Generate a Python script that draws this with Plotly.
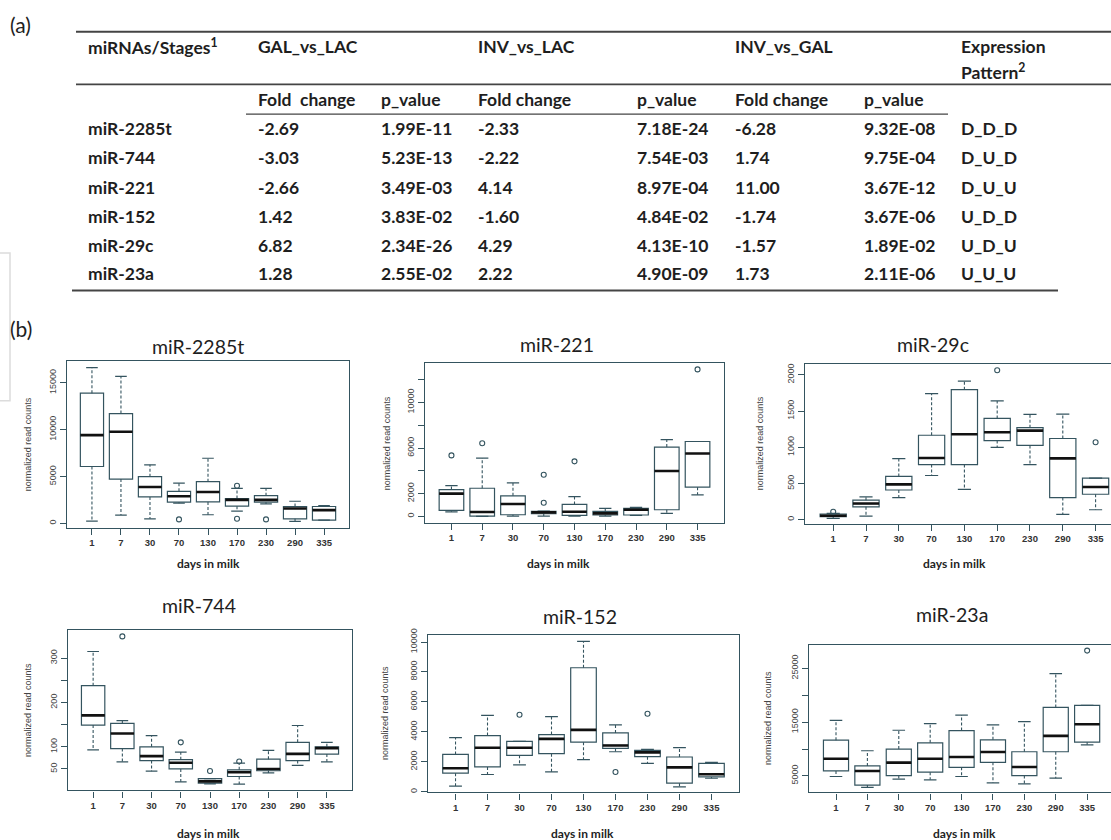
import plotly.graph_objects as go

W, H = 1111, 840


def X(px):
    return px / W


def Y(py):
    return 1 - py / H


# ---------------- (a) table data ----------------
mirnas = ["miR-2285t", "miR-744", "miR-221", "miR-152", "miR-29c", "miR-23a"]
gal_lac_fc = ["-2.69", "-3.03", "-2.66", "1.42", "6.82", "1.28"]
gal_lac_p = ["1.99E-11", "5.23E-13", "3.49E-03", "3.83E-02", "2.34E-26", "2.55E-02"]
inv_lac_fc = ["-2.33", "-2.22", "4.14", "-1.60", "4.29", "2.22"]
inv_lac_p = ["7.18E-24", "7.54E-03", "8.97E-04", "4.84E-02", "4.13E-10", "4.90E-09"]
inv_gal_fc = ["-6.28", "1.74", "11.00", "-1.74", "-1.57", "1.73"]
inv_gal_p = ["9.32E-08", "9.75E-04", "3.67E-12", "3.67E-06", "1.89E-02", "2.11E-06"]
patterns = ["D_D_D", "D_U_D", "D_U_U", "U_D_D", "U_D_U", "U_U_U"]

# ---------------- (b) box plot data ----------------
days = ["1", "7", "30", "70", "130", "170", "230", "290", "335"]

# miR-2285t
lo_2285t = [250, 880, 490, 2150, 920, 1310, 2080, 210, 350]
q1_2285t = [6070, 4730, 2820, 2260, 2290, 1840, 2260, 490, 350]
med_2285t = [9420, 9780, 3880, 2890, 3350, 2510, 2510, 1590, 1410]
q3_2285t = [13900, 11720, 4980, 3420, 4450, 2650, 2960, 1800, 1800]
hi_2285t = [16620, 15700, 6250, 4300, 6950, 3740, 3740, 2360, 1900]
out_day_2285t = ["70", "170", "170", "230"]
out_val_2285t = [420, 4020, 490, 420]

# miR-221
lo_221 = [400, 0, 30, 30, 30, 30, 90, 260, 1890]
q1_221 = [520, 30, 145, 230, 90, 120, 120, 580, 2560]
med_221 = [2000, 380, 1080, 350, 410, 260, 580, 3980, 5520]
q3_221 = [2350, 2470, 1800, 440, 1050, 440, 700, 6080, 6570]
hi_221 = [2700, 5120, 2940, 470, 1740, 700, 790, 6740, 6570]
out_day_221 = ["1", "7", "70", "70", "130", "335"]
out_val_221 = [5350, 6420, 3660, 1190, 4830, 12900]

# miR-29c
lo_29c = [18, 50, 305, 610, 419, 998, 761, 73, 137]
q1_29c = [41, 178, 410, 761, 761, 1093, 1025, 305, 351]
med_29c = [55, 223, 487, 852, 1180, 1207, 1230, 847, 451]
q3_29c = [77, 269, 597, 1166, 1795, 1399, 1271, 1121, 574]
hi_29c = [87, 314, 843, 1740, 1913, 1640, 1453, 1458, 574]
out_day_29c = ["1", "170", "335"]
out_val_29c = [109, 2064, 1070]

# miR-744
lo_744 = [93, 66, 45, 21, 16.5, 16, 41, 58, 66]
q1_744 = [149, 96, 69, 50, 18, 33, 46, 69, 83.5]
med_744 = [171, 130, 79, 64, 22, 42.5, 50, 84, 97]
q3_744 = [238, 153, 100, 71, 28, 48, 72, 110, 100]
hi_744 = [315, 159, 125, 88, 28, 63, 92, 148, 110]
out_day_744 = ["7", "70", "130", "170"]
out_val_744 = [349, 110, 45.5, 67]

# miR-152
lo_152 = [375, 1150, 1790, 1320, 2140, 2670, 1900, 330, 900]
q1_152 = [1240, 1660, 2430, 2540, 3310, 2890, 2340, 570, 990]
med_152 = [1570, 2940, 2940, 3530, 4130, 3090, 2630, 1630, 1170]
q3_152 = [2490, 3750, 3360, 3820, 8280, 3930, 2760, 2320, 1900]
hi_152 = [3620, 5100, 3360, 5010, 10040, 4460, 2830, 2940, 1960]
out_day_152 = ["30", "170", "230"]
out_val_152 = [5140, 1320, 5210]

# miR-23a
lo_23a = [4880, 2850, 4380, 4260, 4880, 3710, 3520, 4570, 10780]
q1_23a = [5920, 3280, 5060, 5680, 6600, 7520, 5060, 9490, 11280]
med_23a = [8200, 5920, 7460, 8200, 8510, 9430, 6660, 12450, 14600]
q3_23a = [11650, 6850, 9980, 11150, 13430, 11710, 9490, 17740, 18110]
hi_23a = [15340, 9680, 13490, 14720, 16320, 14480, 15090, 24020, 18110]
out_day_23a = ["335"]
out_val_23a = [28320]

# y-axis ticks: labelled major ticks and unlabelled extra ticks
yt_2285t = [0, 5000, 10000, 15000]
ym_2285t = []
yt_221 = [0, 2000, 6000, 10000]
ym_221 = [4000, 8000, 12000]
yt_29c = [0, 500, 1000, 1500, 2000]
ym_29c = []
yt_744 = [50, 100, 200, 300]
ym_744 = [150, 250]
yt_152 = [0, 2000, 4000, 6000, 8000, 10000]
ym_152 = []
yt_23a = [5000, 15000, 25000]
ym_23a = [10000, 20000]

# ---------------- styling / layout ----------------
BOX_C = "#34545f"
MED_C = "#111111"
TXT_C = "#1e1e1e"
TABLE_FONT = "Lato, Carlito, 'Open Sans', sans-serif"
R_FONT = "'Liberation Sans', Arial, sans-serif"

panels = [
    dict(name="miR-2285t", lo=lo_2285t, q1=q1_2285t, med=med_2285t, q3=q3_2285t, hi=hi_2285t,
         od=out_day_2285t, ov=out_val_2285t, yt=yt_2285t, ym=ym_2285t,
         fx=(67, 349), fy=(357, 525), xr=(0.14, 9.86), yr=(-455, 17330), mirror_y=True,
         title=(198, 342), xlab=(208, 561), ylab=(28, 441)),
    dict(name="miR-221", lo=lo_221, q1=q1_221, med=med_221, q3=q3_221, hi=hi_221,
         od=out_day_221, ov=out_val_221, yt=yt_221, ym=ym_221,
         fx=(425, 724), fy=(359, 520), xr=(0.14, 9.86), yr=(-552, 13460), mirror_y=True,
         title=(557, 340), xlab=(558, 561), ylab=(387, 440)),
    dict(name="miR-29c", lo=lo_29c, q1=q1_29c, med=med_29c, q3=q3_29c, hi=hi_29c,
         od=out_day_29c, ov=out_val_29c, yt=yt_29c, ym=ym_29c,
         fx=(805, 1111), fy=(360, 521), xr=(0.14, 9.47), yr=(-55, 2150), mirror_y=False,
         title=(933, 340), xlab=(954, 561), ylab=(760, 440)),
    dict(name="miR-744", lo=lo_744, q1=q1_744, med=med_744, q3=q3_744, hi=hi_744,
         od=out_day_744, ov=out_val_744, yt=yt_744, ym=ym_744,
         fx=(68, 352), fy=(628, 790), xr=(0.14, 9.86), yr=(1.6, 364), mirror_y=True,
         title=(199, 604), xlab=(208, 833), ylab=(28, 709)),
    dict(name="miR-152", lo=lo_152, q1=q1_152, med=med_152, q3=q3_152, hi=hi_152,
         od=out_day_152, ov=out_val_152, yt=yt_152, ym=ym_152,
         fx=(428, 739), fy=(633, 792), xr=(0.14, 9.86), yr=(-44, 10486), mirror_y=True,
         title=(580, 615), xlab=(582, 833), ylab=(385, 712)),
    dict(name="miR-23a", lo=lo_23a, q1=q1_23a, med=med_23a, q3=q3_23a, hi=hi_23a,
         od=out_day_23a, ov=out_val_23a, yt=yt_23a, ym=ym_23a,
         fx=(809, 1111), fy=(643, 792), xr=(0.14, 9.76), yr=(1923, 29430), mirror_y=False,
         title=(952, 613), xlab=(964, 833), ylab=(768, 717)),
]

fig = go.Figure()
annotations = []
shapes = []
layout_axes = {}

pos = list(range(1, len(days) + 1))
day_pos = {d: p for d, p in zip(days, pos)}

for k, pn in enumerate(panels, start=1):
    xa, ya = f"x{k}", f"y{k}"
    # whiskers (dashed)
    wx, wy = [], []
    for i, p in enumerate(pos):
        wx += [p, p, None, p, p, None]
        wy += [pn["q3"][i], pn["hi"][i], None, pn["q1"][i], pn["lo"][i], None]
    fig.add_trace(go.Scatter(x=wx, y=wy, mode="lines", xaxis=xa, yaxis=ya,
                             line=dict(color=BOX_C, width=1.1, dash="3px,2px"),
                             hoverinfo="skip", showlegend=False))
    # boxes
    fig.add_trace(go.Box(x=pos, q1=pn["q1"], median=pn["med"], q3=pn["q3"],
                         lowerfence=pn["q1"], upperfence=pn["q3"], width=0.8,
                         whiskerwidth=0, boxpoints=False, xaxis=xa, yaxis=ya,
                         fillcolor="rgba(255,255,255,0)", line=dict(color=BOX_C, width=1.2),
                         hoverinfo="skip", showlegend=False))
    # caps
    cx, cy = [], []
    for i, p in enumerate(pos):
        cx += [p - 0.2, p + 0.2, None, p - 0.2, p + 0.2, None]
        cy += [pn["hi"][i], pn["hi"][i], None, pn["lo"][i], pn["lo"][i], None]
    fig.add_trace(go.Scatter(x=cx, y=cy, mode="lines", xaxis=xa, yaxis=ya,
                             line=dict(color=BOX_C, width=1.2),
                             hoverinfo="skip", showlegend=False))
    # medians (thick)
    mx, my = [], []
    for i, p in enumerate(pos):
        mx += [p - 0.4, p + 0.4, None]
        my += [pn["med"][i], pn["med"][i], None]
    fig.add_trace(go.Scatter(x=mx, y=my, mode="lines", xaxis=xa, yaxis=ya,
                             line=dict(color=MED_C, width=2.6),
                             hoverinfo="skip", showlegend=False))
    # outliers
    fig.add_trace(go.Scatter(x=[day_pos[d] for d in pn["od"]], y=pn["ov"], mode="markers",
                             xaxis=xa, yaxis=ya,
                             marker=dict(symbol="circle-open", size=5, color=BOX_C,
                                         line=dict(width=1.1, color=BOX_C)),
                             hoverinfo="skip", showlegend=False))

    x0, x1 = pn["fx"]
    y0, y1 = pn["fy"]
    layout_axes[f"xaxis{k}"] = dict(
        domain=[X(x0), X(x1)], range=list(pn["xr"]), anchor=ya,
        tickmode="array", tickvals=pos, ticktext=days,
        showline=True, mirror=True, linecolor=BOX_C, linewidth=1.2,
        ticks="outside", ticklen=6, tickcolor=BOX_C, tickwidth=1.1,
        showgrid=False, zeroline=False, fixedrange=True,
        tickfont=dict(family=R_FONT, size=9.5, color="#333", weight="bold"),
    )
    yax = dict(
        domain=[Y(y1), Y(y0)], range=list(pn["yr"]), anchor=xa,
        tickmode="array", tickvals=pn["yt"], ticktext=[str(v) for v in pn["yt"]],
        tickangle=-90,
        showline=True, mirror=pn["mirror_y"], linecolor=BOX_C, linewidth=1.2,
        ticks="outside", ticklen=6, tickcolor=BOX_C, tickwidth=1.1,
        showgrid=False, zeroline=False, fixedrange=True,
        tickfont=dict(family=R_FONT, size=9, color="#444"),
    )
    if pn["ym"]:
        yax["minor"] = dict(tickmode="array", tickvals=pn["ym"], ticks="outside", ticklen=6,
                            tickcolor=BOX_C, tickwidth=1.1, showgrid=False)
    layout_axes[f"yaxis{k}"] = yax

    tx, ty = pn["title"]
    annotations.append(dict(text=pn["name"], x=X(tx), y=Y(ty), xref="paper", yref="paper",
                            xanchor="center", yanchor="middle", showarrow=False,
                            font=dict(family=TABLE_FONT, size=19.5, color=TXT_C)))
    lx, ly = pn["xlab"]
    annotations.append(dict(text="days in milk", x=X(lx), y=Y(ly), xref="paper", yref="paper",
                            xanchor="center", yanchor="middle", showarrow=False,
                            font=dict(family=TABLE_FONT, size=12, color=TXT_C, weight="bold")))
    yx, yy = pn["ylab"]
    annotations.append(dict(text="normalized read counts", x=X(yx), y=Y(yy), xref="paper",
                            yref="paper", xanchor="center", yanchor="middle", showarrow=False,
                            textangle=-90,
                            font=dict(family=R_FONT, size=9, color="#444")))

# ---------------- table annotations ----------------
def tab_text(txt, px, py, size=17.5, weight="bold"):
    annotations.append(dict(text=txt, x=X(px), y=Y(py), xref="paper", yref="paper",
                            xanchor="left", yanchor="middle", showarrow=False,
                            font=dict(family=TABLE_FONT, size=size, color=TXT_C,
                                      weight=weight)))


col_x = [86, 256, 379, 476, 635, 733, 862, 959]
row_y = [123, 152, 182, 211, 240, 269]

tab_text("miRNAs/Stages<sup>1</sup>", col_x[0], 40)
tab_text("GAL_vs_LAC", col_x[1], 40)
tab_text("INV_vs_LAC", col_x[3], 40)
tab_text("INV_vs_GAL", col_x[5], 40)
tab_text("Expression", col_x[7], 40)
tab_text("Pattern<sup>2</sup>", col_x[7], 65)
for c, lab in zip(col_x[1:7], ["Fold\u00a0 change", "p_value", "Fold change", "p_value",
                               "Fold change", "p_value"]):
    tab_text(lab, c, 93)

columns = [mirnas, gal_lac_fc, gal_lac_p, inv_lac_fc, inv_lac_p, inv_gal_fc, inv_gal_p, patterns]
for c, col in zip(col_x, columns):
    for r, val in zip(row_y, col):
        tab_text(val, c, r)

tab_text("(a)", 8, 18, size=21, weight="normal")
tab_text("(b)", 8, 324, size=21, weight="normal")

RULE_C = "#444444"
for (xa0, xa1, yy, lw) in [(76, 1112, 25, 2.0), (76, 1112, 78, 1.6), (246, 948, 108, 1.3),
                           (72, 1058, 286, 2.0)]:
    shapes.append(dict(type="line", xref="paper", yref="paper", x0=X(xa0), x1=X(xa1),
                       y0=Y(yy), y1=Y(yy), line=dict(color=RULE_C, width=lw)))

# faint grey box fragment at left edge
shapes.append(dict(type="rect", xref="paper", yref="paper", x0=X(-6), x1=X(10),
                   y0=Y(397), y1=Y(248), line=dict(color="#dcdcdc", width=1.5)))

fig.update_layout(
    width=W, height=H, margin=dict(l=0, r=0, t=0, b=0),
    paper_bgcolor="white", plot_bgcolor="white", showlegend=False,
    annotations=annotations, shapes=shapes, **layout_axes,
)

fig.write_html(
    "out.html",
    config={"displayModeBar": False},
    post_script="document.body.style.margin='0';document.body.style.padding='0';"
                "document.documentElement.style.overflow='hidden';"
                "var gd=document.getElementById('{plot_id}');"
                "gd.style.position='absolute';gd.style.left='0px';gd.style.top='0px';",
)
